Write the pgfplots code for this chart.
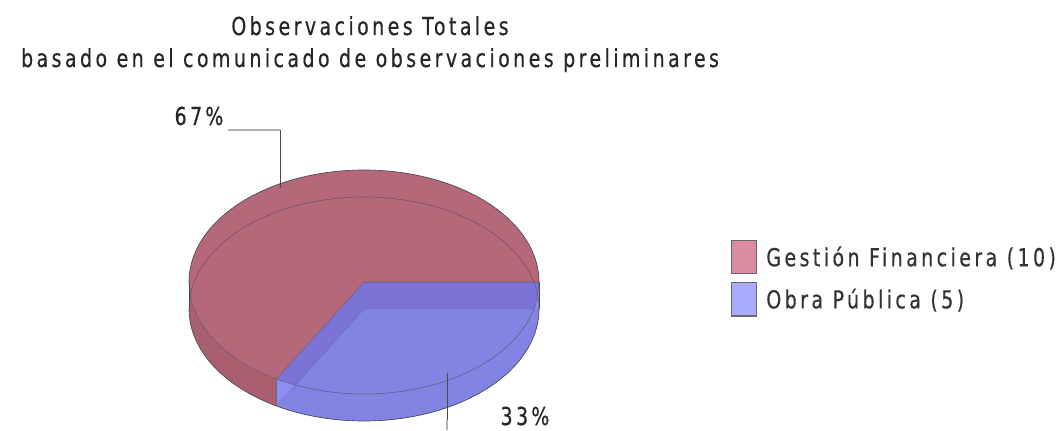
\documentclass[border=0pt]{standalone}
\usepackage{fontspec}
\setmainfont{DejaVu Sans}[LetterSpace=18, FakeBold=0.6]
\usepackage{pgfplots}
\pgfplotsset{compat=1.18}
\usepackage{pgfplotstable}
\usepgfplotslibrary{fillbetween}

\definecolor{redtop}{HTML}{B5687A}
\definecolor{redside}{HTML}{AA5F70}
\definecolor{bluedark}{HTML}{7B74D6}
\definecolor{bluetop}{HTML}{8284E4}
\definecolor{blueside}{HTML}{8C8EF5}
\definecolor{legred}{HTML}{DC8CA0}
\definecolor{legblue}{HTML}{AAAAFF}
\definecolor{edge}{HTML}{4A4A4A}

\pgfplotstableread{
name value
GF 10
OP 5
}\piedata
\pgfplotstablegetelem{0}{value}\of\piedata \let\vA\pgfplotsretval
\pgfplotstablegetelem{1}{value}\of\piedata \let\vB\pgfplotsretval
\pgfmathsetmacro\angA{360*\vA/(\vA+\vB)}

\newcommand{\vs}[1]{\scalebox{1}[1.3]{#1}}
\newcommand{\cfont}{\fontsize{14.25pt}{16pt}\selectfont}

\begin{document}
\begin{tikzpicture}
\begin{axis}[
  width=796.5pt, height=322.5pt, scale only axis,
  xmin=0, xmax=1062, ymin=0, ymax=430,
  hide axis, clip=false,
  every axis plot/.append style={forget plot},
  legend image code/.code={\draw[#1, draw=gray!80!black, line width=0.8pt] (0pt,-12.4pt) rectangle (18.75pt,12.4pt);},
  legend style={at={(axis cs:731,190)}, anchor=north west, draw=none, fill=none,
    inner sep=0pt, row sep=6pt, font=\cfont, text=black!80,
    nodes={inner sep=0pt, anchor=west},
    /tikz/every odd column/.append style={column sep=6.75pt}},
  legend cell align=left,
]
% bounding box
\addplot[draw=none] coordinates {(0,0) (1062,430)};

% red side band
\addplot[name path=topR, draw=none, domain=180:\angA, samples=40] ({364+175*cos(x)},{148+112*sin(x)});
\addplot[name path=botR, draw=none, domain=180:\angA, samples=40] ({364+175*cos(x)},{121+112*sin(x)});
\addplot[fill=redside, draw=none] fill between[of=topR and botR];

% red top sector
\addplot[fill=redtop, draw=none, domain=0:\angA, samples=120] ({364+175*cos(x)},{148+112*sin(x)}) -- (axis cs:364,148) -- cycle;

% blue: upper (dark) sector, lower sector, side band
\addplot[fill=bluedark, draw=none, domain=\angA:360, samples=60] ({364+175*cos(x)},{148+112*sin(x)}) -- (axis cs:364,148) -- cycle;
\addplot[fill=bluetop, draw=none, domain=\angA:360, samples=60] ({364+175*cos(x)},{121+112*sin(x)}) -- (axis cs:364,121) -- cycle;
\addplot[name path=topB, draw=none, domain=\angA:360, samples=60] ({364+175*cos(x)},{148+112*sin(x)});
\addplot[name path=botB, draw=none, domain=\angA:360, samples=60] ({364+175*cos(x)},{121+112*sin(x)});
\addplot[fill=blueside, draw=none] fill between[of=topB and botB];

% outlines
\addplot[edge, line width=0.5pt, domain=0:180, samples=90] ({364+175*cos(x)},{148+112*sin(x)});
\addplot[edge, line width=0.4pt, opacity=0.7, domain=180:360, samples=90] ({364+175*cos(x)},{148+112*sin(x)});
\addplot[edge, line width=0.4pt, opacity=0.7, domain=0:180, samples=90] ({364+175*cos(x)},{121+112*sin(x)});
\addplot[edge, line width=0.5pt, domain=180:360, samples=90] ({364+175*cos(x)},{121+112*sin(x)});
\addplot[edge, line width=0.5pt] coordinates {(189,148) (189,121)};
\addplot[edge, line width=0.5pt] coordinates {(539,148) (539,121)};
\addplot[edge, line width=0.4pt, opacity=0.6] coordinates {(539,148) (364,148) (276.5,51) (276.5,24)};
\addplot[edge, line width=0.3pt, opacity=0.35] coordinates {(539,121) (364,121) (276.5,24)};

% leader lines
\addplot[gray!60, line width=1pt] coordinates {(228,300) (280,300)};
\addplot[edge, line width=0.6pt] coordinates {(280,300) (280,242)};
\addplot[edge, line width=0.6pt] coordinates {(447,57) (447,10)};
\addplot[gray!60, line width=1pt] coordinates {(447,10) (447,0)};

% labels
\node[anchor=base, font=\cfont, text=black!85] at (axis cs:370,395) {\vs{Observaciones Totales}};
\node[anchor=base, font=\cfont, text=black!85] at (axis cs:370,363) {\vs{basado en el comunicado de observaciones preliminares}};
\node[anchor=base, font=\cfont, text=black!85] at (axis cs:199,305) {\vs{67\,\%}};
\node[anchor=base, font=\cfont, text=black!85] at (axis cs:525,5) {\vs{33\,\%}};

% legend
\addlegendimage{fill=legred}
\addlegendentry{\vs{Gestión Financiera (10)}}
\addlegendimage{fill=legblue}
\addlegendentry{\vs{Obra Pública (5)}}
\end{axis}
\end{tikzpicture}
\end{document}
